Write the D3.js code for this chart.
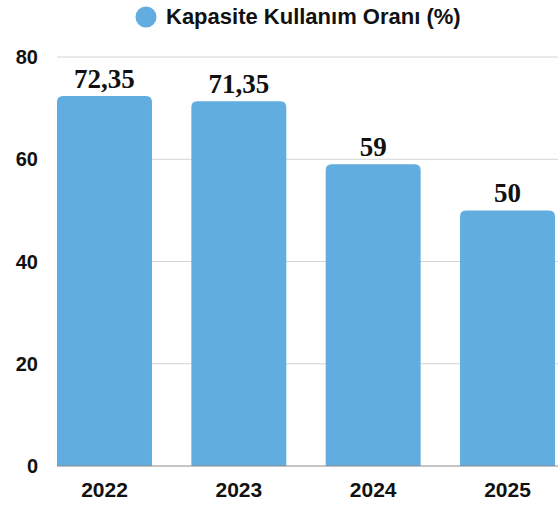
<!DOCTYPE html>
<meta charset="utf-8">
<script src="https://d3js.org/d3.v7.min.js"></script>
<style>
  body { margin: 0; background: #fff; }
  text { font-family: "Liberation Sans", Arial, sans-serif; }
</style>
<body>
<svg id="chart" width="558" height="505"></svg>
<script>
"use strict"

var years = ["2022", "2023", "2024", "2025"]
var values = [72.35, 71.35, 59, 50]
var labels = ["72,35", "71,35", "59", "50"]
var yTicks = [0, 20, 40, 60, 80]
var seriesName = "Kapasite Kullanım Oranı (%)"

var W = 558, H = 505
var plotLeft = 57, plotRight = 555, plotTop = 57, plotBottom = 466
var barColor = "#62addf"

var svg = d3.select("#chart")

var x = d3.scaleBand().domain(years).range([plotLeft, plotRight])
    .paddingInner(0.293).paddingOuter(0)
var y = d3.scaleLinear().domain([0, 80]).range([plotBottom, plotTop])

// grid
svg.append("g").selectAll("line")
    .data(yTicks.filter(function(d){ return d > 0 }))
  .enter().append("line")
    .attr("x1", plotLeft).attr("x2", W)
    .attr("y1", function(d){ return y(d) }).attr("y2", function(d){ return y(d) })
    .attr("stroke", "#d4d4d4").attr("stroke-width", 1)

// y labels
svg.append("g").selectAll("text")
    .data(yTicks)
  .enter().append("text")
    .attr("x", 38)
    .attr("y", function(d){ return y(d) })
    .attr("dy", "0.35em")
    .attr("text-anchor", "end")
    .style("font-size", "20px").style("font-weight", "bold").style("fill", "#111")
    .text(function(d){ return d })

// bars with rounded top corners
function barPath(x0, w, yTop, yBot, r) {
  return "M" + x0 + "," + yBot +
    "V" + (yTop + r) +
    "Q" + x0 + "," + yTop + " " + (x0 + r) + "," + yTop +
    "H" + (x0 + w - r) +
    "Q" + (x0 + w) + "," + yTop + " " + (x0 + w) + "," + (yTop + r) +
    "V" + yBot + "Z"
}

svg.append("g").selectAll("path")
    .data(years)
  .enter().append("path")
    .attr("d", function(d, i){ return barPath(x(d), x.bandwidth(), y(values[i]), y(0), 6) })
    .attr("fill", barColor)

// baseline
svg.append("line")
    .attr("x1", plotLeft).attr("x2", W)
    .attr("y1", y(0)).attr("y2", y(0))
    .attr("stroke", "#8a8a8a").attr("stroke-width", 1)

// value labels
svg.append("g").selectAll("text")
    .data(years)
  .enter().append("text")
    .attr("x", function(d){ return x(d) + x.bandwidth() / 2 })
    .attr("y", function(d, i){ return y(values[i]) - 8 })
    .attr("text-anchor", "middle")
    .style("font-family", "'Liberation Serif', 'Times New Roman', serif")
    .style("font-size", "27px").style("font-weight", "bold").style("fill", "#111")
    .text(function(d, i){ return labels[i] })

// x labels
svg.append("g").selectAll("text")
    .data(years)
  .enter().append("text")
    .attr("x", function(d){ return x(d) + x.bandwidth() / 2 })
    .attr("y", 497)
    .attr("text-anchor", "middle")
    .style("font-size", "21px").style("font-weight", "bold").style("fill", "#111")
    .text(function(d){ return d })

// legend
svg.append("circle").attr("cx", 146).attr("cy", 17).attr("r", 10.5).attr("fill", barColor)
svg.append("text")
    .attr("x", 166).attr("y", 24)
    .style("font-size", "22px").style("font-weight", "bold").style("fill", "#111")
    .text(seriesName)
</script>
</body>
